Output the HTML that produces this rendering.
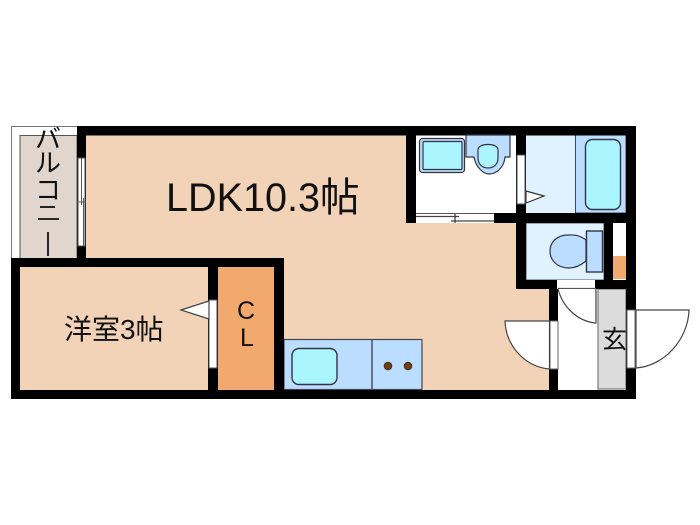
<!DOCTYPE html>
<html><head><meta charset="utf-8"><style>
html,body{margin:0;padding:0;background:#fff;width:700px;height:525px;overflow:hidden}
svg{display:block}
text{font-family:"Liberation Sans","Noto Sans CJK JP",sans-serif;fill:#111}
</style></head><body>
<svg width="700" height="525" viewBox="0 0 700 525" xmlns="http://www.w3.org/2000/svg">
<!-- balcony -->
<rect x="11.5" y="126.5" width="66" height="132" fill="#fff" stroke="#777" stroke-width="1"/>
<rect x="20" y="135.5" width="57" height="123" fill="#e0d6ce" stroke="#555" stroke-width="1"/>
<!-- LDK floor -->
<rect x="86" y="135" width="464" height="255" fill="#f2d3b7"/>
<!-- Western room, CL -->
<rect x="20" y="267" width="188" height="123" fill="#f2d3b7"/>
<rect x="218" y="267" width="56" height="123" fill="#f1a96d"/>
<!-- wash room -->
<rect x="416" y="135" width="100" height="78" fill="#fff"/>
<!-- bath -->
<rect x="526" y="135" width="100" height="78" fill="#e0f2ff"/>
<rect x="575.5" y="135" width="50.5" height="78" fill="#bbddff" stroke="#445" stroke-width="1"/>
<rect x="585.5" y="139.5" width="35" height="70" rx="7" fill="#aaf5ff" stroke="#334" stroke-width="1.4"/>
<!-- toilet room -->
<rect x="526" y="223" width="78" height="57" fill="#e0f2ff" stroke="#556" stroke-width="1"/>
<rect x="613" y="223" width="13" height="24" fill="#fff"/>
<rect x="613" y="256" width="13" height="23" fill="#f1a96d"/>
<!-- entrance -->
<rect x="558" y="289" width="68" height="101" fill="#fff"/>
<rect x="598" y="289" width="28" height="100" fill="#dcdcdc" stroke="#666" stroke-width="1"/>
<!-- kitchen -->
<rect x="284" y="339.5" width="138" height="50" fill="#bbddff" stroke="#445" stroke-width="1.2"/>
<line x1="372" y1="339" x2="372" y2="390" stroke="#445" stroke-width="1.4"/>
<rect x="292" y="348.5" width="45" height="36" rx="7" fill="#aaf5ff" stroke="#334" stroke-width="1.4"/>
<circle cx="388" cy="366" r="3.8" fill="#7a3d08" stroke="#333" stroke-width="1"/>
<circle cx="408" cy="366" r="3.8" fill="#7a3d08" stroke="#333" stroke-width="1"/>
<!-- walls -->
<g fill="#000">
<rect x="77" y="126" width="559" height="9.5"/>
<rect x="77" y="126" width="9" height="141"/>
<rect x="11" y="258" width="273" height="9"/>
<rect x="11" y="258" width="9" height="141"/>
<rect x="11" y="390" width="625" height="9"/>
<rect x="208" y="258" width="10" height="141"/>
<rect x="274" y="258" width="10" height="141"/>
<rect x="406" y="126" width="10" height="97"/>
<rect x="406" y="213" width="120" height="10"/>
<rect x="516" y="126" width="10" height="163"/>
<rect x="516" y="280" width="120" height="9"/>
<rect x="626" y="126" width="10" height="273"/>
<rect x="604" y="213" width="9" height="76"/>
<rect x="526" y="213" width="110" height="10"/>
<rect x="549" y="280" width="9" height="119"/>
</g>
<!-- balcony window -->
<rect x="78" y="158" width="7" height="88" fill="#fff" stroke="#555" stroke-width="1"/>
<line x1="81.5" y1="158" x2="81.5" y2="205" stroke="#555"/>
<line x1="83.5" y1="198" x2="83.5" y2="246" stroke="#555"/>
<line x1="77" y1="202" x2="86" y2="202" stroke="#555"/>
<!-- room door -->
<rect x="209" y="300" width="8" height="68" fill="#fff" stroke="#555" stroke-width="1"/>
<polygon points="181,310 209,301 209,319" fill="#fff" stroke="#444" stroke-width="1.2"/>
<!-- wash room sliding door -->
<rect x="416" y="213" width="78" height="10" fill="#fff"/>
<line x1="416" y1="216.5" x2="459" y2="216.5" stroke="#444" stroke-width="1.2"/>
<line x1="451" y1="221" x2="494" y2="221" stroke="#444" stroke-width="1.2"/>
<line x1="455" y1="214" x2="455" y2="223" stroke="#333" stroke-width="1.2"/>
<line x1="416" y1="213.5" x2="494" y2="213.5" stroke="#555" stroke-width="1"/>
<!-- wash room / bath door -->
<rect x="517" y="155" width="8" height="49" fill="#fff" stroke="#555" stroke-width="1"/>
<polygon points="526,191 544,196 526,203" fill="#fff" stroke="#333" stroke-width="1.2"/>
<!-- wash basin -->
<rect x="419.5" y="138.5" width="45" height="34" rx="3" fill="#bbddff" stroke="#334" stroke-width="1.2"/>
<rect x="423" y="141.5" width="39" height="28" rx="1" fill="#aaf5ff" stroke="#334" stroke-width="1.2"/>
<!-- washstand -->
<path d="M466 135 V157 H474 C476 168 484 174 489 174 C496 174 504 168 505 157 H510 V135 Z" fill="#bbddff" stroke="#334" stroke-width="1.2"/>
<path d="M478 150 C478 147 481 144.500 488 144.500 C495 144.500 498 147 498 150 V158 C498 164 494 168 488 168 C482 168 478 164 478 158 Z" fill="#aaf5ff" stroke="#334" stroke-width="1.2"/>
<!-- toilet -->
<path d="M586 240 C578 234 572 235 568 235 C557 235 550 242 550 251 C550 260 557 268 569 268 C575 268 580 266 586 261 Z" fill="#bbddff" stroke="#334" stroke-width="1.2"/>
<rect x="586.5" y="231" width="16" height="41" fill="#bbddff" stroke="#334" stroke-width="1.4"/>
<!-- toilet door -->
<rect x="557" y="280" width="38" height="9" fill="#fff"/>
<line x1="558" y1="288.500" x2="596" y2="288.500" stroke="#555" stroke-width="1.2"/>
<path d="M596 289 V323 H595 C578 321 563 308 558 289" fill="#fff" stroke="#444" stroke-width="1.2"/>
<!-- entrance left door -->
<rect x="550" y="321" width="8" height="48" fill="#fff" stroke="#666" stroke-width="1"/>
<path d="M549.500 321 H505 C506 347 526 367 549.500 369 Z" fill="#fff" stroke="#444" stroke-width="1.2"/>
<!-- entrance right door -->
<rect x="627" y="310" width="8" height="58" fill="#fff" stroke="#666" stroke-width="1"/>
<path d="M636 310 H689 C688 340 664 366 636 368 Z" fill="#fff" stroke="#444" stroke-width="1.2"/>
<!-- labels -->
<text x="166" y="211" font-size="39.600">LDK10.3帖</text>
<text x="64" y="339" font-size="28">洋室3帖</text>
<text x="246" y="319" font-size="25" text-anchor="middle">C</text>
<text x="247" y="346" font-size="25" text-anchor="middle">L</text>
<text x="48" y="148" font-size="26" text-anchor="middle">バ</text>
<text x="48" y="172" font-size="26" text-anchor="middle">ル</text>
<text x="48" y="199" font-size="26" text-anchor="middle">コ</text>
<g stroke="#111" stroke-width="1.8">
<line x1="40" y1="207" x2="55" y2="207"/>
<line x1="38" y1="219" x2="59" y2="219"/>
<line x1="48" y1="232" x2="48" y2="256"/>
</g>
<text x="614.500" y="348" font-size="25" text-anchor="middle">玄</text>
</svg>
</body></html>
